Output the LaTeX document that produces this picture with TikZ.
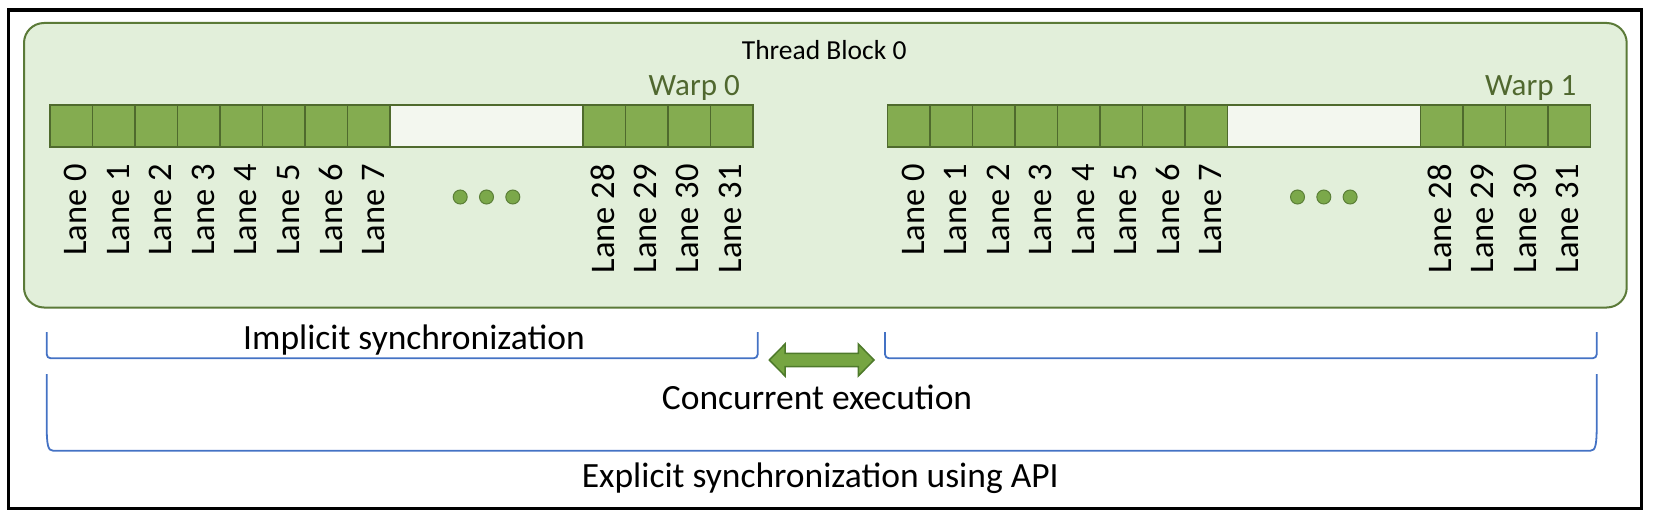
\documentclass[tikz,border=0pt]{standalone}
\usepackage{fontspec}
\setmainfont{Carlito}
\definecolor{boxfill}{HTML}{E2EFDA}
\definecolor{boxdraw}{HTML}{5B7A38}
\definecolor{cellfill}{HTML}{84AC50}
\definecolor{celldraw}{HTML}{4F6A2D}
\definecolor{gapfill}{HTML}{F3F7EF}
\definecolor{dotfill}{HTML}{7BA84A}
\definecolor{dotdraw}{HTML}{5B7F37}
\definecolor{warptext}{HTML}{50682F}
\definecolor{arrowfill}{HTML}{76A542}
\definecolor{arrowdraw}{HTML}{4E7A2B}
\definecolor{brace}{HTML}{4472C4}
\tikzset{
  cell/.style={draw=celldraw, fill=cellfill, line width=1.4pt, minimum width=42.5pt, minimum height=42pt, inner sep=0pt, outer sep=0pt},
  gapcell/.style={draw=celldraw, fill=gapfill, line width=1.4pt, minimum height=42pt, inner sep=0pt, outer sep=0pt},
  lane/.style={rotate=90, anchor=east, inner sep=0pt, font=\fontsize{34.5}{40}\selectfont},
  dotmark/.style={circle, draw=dotdraw, fill=dotfill, line width=1pt, minimum size=14pt, inner sep=0pt},
  warplabel/.style={anchor=base east, inner sep=0pt, text=warptext, font=\fontsize{31}{36}\selectfont},
  biglabel/.style={anchor=base west, inner sep=0pt, font=\fontsize{35.5}{40}\selectfont},
  bracket/.style={draw=brace, line width=1.8pt, rounded corners=4pt},
}
\begin{document}
\begin{tikzpicture}[x=1pt,y=-1pt]
\useasboundingbox (0,0) rectangle (1653,513);
% outer frame
\draw[line width=3.3pt] (8.5,10) rectangle (1641.7,508.3);
% thread block
\draw[draw=boxdraw, fill=boxfill, line width=2pt, rounded corners=20pt] (24,23) rectangle (1626.7,307.5);
\node[anchor=base west, inner sep=0pt, font=\fontsize{27.5}{32}\selectfont] (tb) at (741.7,60) {Thread Block 0};
% warps
\foreach \w/\X in {0/50,1/887.3} {
  \foreach \i in {0,...,7} {
    \pgfmathsetmacro\cx{\X+21.25+42.5*\i}
    \pgfmathsetmacro\lx{\cx+4.5}
    \node[cell] (w\w c\i) at (\cx,126) {};
    \node[lane] (w\w l\i) at (\lx,164) {Lane \i};
  }
  \pgfmathsetmacro\gx{\X+340+96.5}
  \node[gapcell, minimum width=193pt] (w\w gap) at (\gx,126) {};
  \foreach \j in {0,...,3} {
    \pgfmathtruncatemacro\k{28+\j}
    \pgfmathsetmacro\cx{\X+533+21.25+42.5*\j}
    \pgfmathsetmacro\lx{\cx-1.5}
    \node[cell] (w\w c\k) at (\cx,126) {};
    \node[lane] (w\w l\k) at (\lx,164) {Lane \k};
  }
  \foreach \d in {-1,0,1} {
    \pgfmathsetmacro\dx{\gx+26.3*\d}
    \node[dotmark] (w\w d\d) at (\dx,197) {};
  }
}
\node[warplabel] (warp0) at (740,96) {Warp 0};
\node[warplabel] (warp1) at (1576.5,96) {Warp 1};
% brackets
\draw[bracket] (46.7,332) -- (46.7,358.3) -- (757.7,358.3) -- (757.7,332);
\draw[bracket] (885,332) -- (885,358.3) -- (1596.7,358.3) -- (1596.7,332);
\draw[draw=brace, line width=1.8pt] (46.7,374) -- (46.7,425) .. controls (46.7,445) and (48,450.7) .. (53,450.7) -- (1590.5,450.7) .. controls (1595.5,450.7) and (1596.7,445) .. (1596.7,425) -- (1596.7,374);
% double arrow
\draw[draw=arrowdraw, fill=arrowfill, line width=1.5pt, line join=miter]
  (769.3,360) -- (785,344) -- (785,353.3) -- (858.3,353.3) -- (858.3,344) -- (874,360)
  -- (858.3,376) -- (858.3,366.7) -- (785,366.7) -- (785,376) -- cycle;
% labels
\node[biglabel] (impl) at (243,349.3) {Implicit synchronization};
\node[biglabel] (conc) at (661.7,409) {Concurrent execution};
\node[biglabel] (expl) at (581.7,487.3) {Explicit synchronization using API};
\end{tikzpicture}
\end{document}
